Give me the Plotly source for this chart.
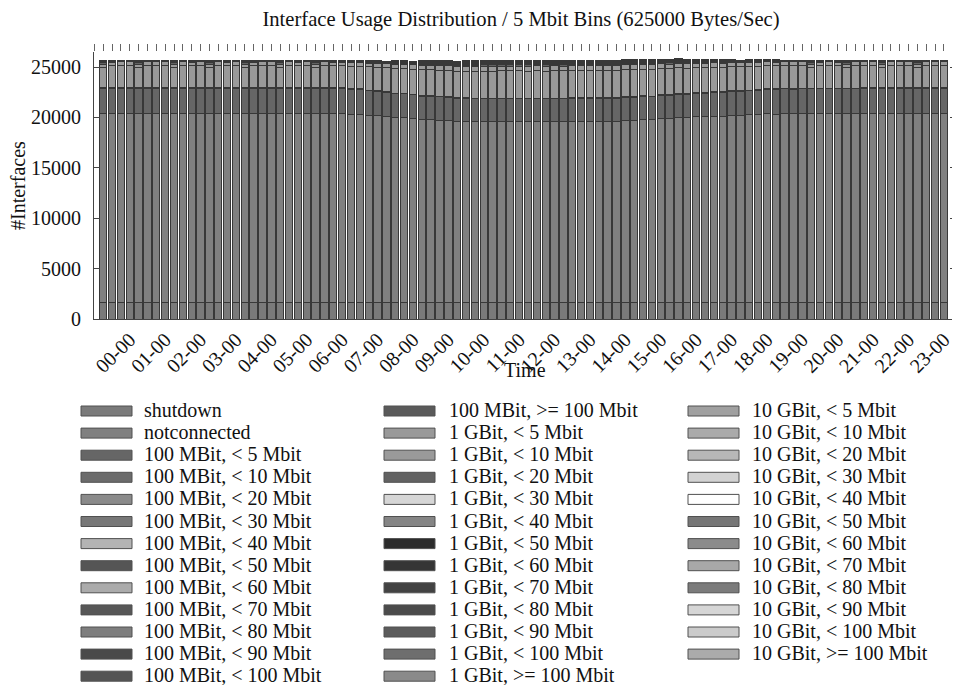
import plotly.graph_objects as go

# ---------------- data ----------------
slots = [
    "23-15", "23-30", "23-45",
    "00-00", "00-15", "00-30", "00-45", "01-00", "01-15", "01-30", "01-45",
    "02-00", "02-15", "02-30", "02-45", "03-00", "03-15", "03-30", "03-45",
    "04-00", "04-15", "04-30", "04-45", "05-00", "05-15", "05-30", "05-45",
    "06-00", "06-15", "06-30", "06-45", "07-00", "07-15", "07-30", "07-45",
    "08-00", "08-15", "08-30", "08-45", "09-00", "09-15", "09-30", "09-45",
    "10-00", "10-15", "10-30", "10-45", "11-00", "11-15", "11-30", "11-45",
    "12-00", "12-15", "12-30", "12-45", "13-00", "13-15", "13-30", "13-45",
    "14-00", "14-15", "14-30", "14-45", "15-00", "15-15", "15-30", "15-45",
    "16-00", "16-15", "16-30", "16-45", "17-00", "17-15", "17-30", "17-45",
    "18-00", "18-15", "18-30", "18-45", "19-00", "19-15", "19-30", "19-45",
    "20-00", "20-15", "20-30", "20-45", "21-00", "21-15", "21-30", "21-45",
    "22-00", "22-15", "22-30", "22-45", "23-00",
]

hour_labels = [
    "00-00", "01-00", "02-00", "03-00", "04-00", "05-00", "06-00", "07-00",
    "08-00", "09-00", "10-00", "11-00", "12-00", "13-00", "14-00", "15-00",
    "16-00", "17-00", "18-00", "19-00", "20-00", "21-00", "22-00", "23-00",
]

y_ticks = [0, 5000, 10000, 15000, 20000, 25000]
y_tick_text = ["0", "5000", "10000", "15000", "20000", "25000"]

shutdown = [
    1602, 1598, 1601, 1604, 1599, 1603, 1600, 1597, 1601, 1605, 1598, 1602, 1600, 1603, 1599, 1601, 1604, 1598, 1600, 1602, 1597, 1601, 1603, 1599,
    1600, 1602, 1598, 1601, 1604, 1600, 1599, 1603, 1597, 1601, 1600, 1602, 1598, 1604, 1599, 1601, 1603, 1600, 1598, 1602, 1601, 1597, 1603, 1600,
    1599, 1602, 1600, 1604, 1598, 1601, 1603, 1599, 1600, 1602, 1597, 1601, 1604, 1600, 1598, 1602, 1599, 1603, 1601, 1600, 1598, 1602, 1600, 1603,
    1599, 1601, 1604, 1598, 1600, 1602, 1597, 1601, 1603, 1599, 1600, 1602, 1598, 1604, 1601, 1599, 1603, 1600, 1602, 1598, 1601, 1599, 1603, 1600,
]
notconnected = [
    18830, 18822, 18828, 18825, 18819, 18827, 18831, 18824, 18826, 18820, 18829, 18823, 18825, 18832, 18821, 18826, 18828, 18824, 18822, 18830, 18827, 18825, 18819, 18826,
    18829, 18824, 18821, 18815, 18735, 18725, 18630, 18590, 18490, 18395, 18385, 18290, 18195, 18185, 18135, 18125, 18020, 18005, 17995, 17990, 18002, 17996, 18004, 17992,
    17998, 18001, 17994, 18006, 17997, 18030, 18028, 18035, 18032, 18036, 18030, 18135, 18128, 18195, 18188, 18290, 18285, 18392, 18386, 18460, 18455, 18530, 18526, 18590,
    18586, 18660, 18655, 18750, 18746, 18782, 18776, 18784, 18779, 18781, 18786, 18790, 18795, 18800, 18815, 18820, 18818, 18825, 18822, 18826, 18824, 18828, 18823, 18825,
]
m100_lt5 = [
    2482, 2478, 2485, 2480, 2476, 2483, 2479, 2481, 2484, 2477, 2480, 2486, 2478, 2481, 2475, 2483, 2480, 2479, 2484, 2477, 2482, 2480, 2478, 2485,
    2481, 2476, 2480, 2483, 2458, 2460, 2436, 2425, 2403, 2381, 2370, 2348, 2326, 2315, 2304, 2306, 2293, 2282, 2271, 2262, 2258, 2261, 2257, 2263,
    2259, 2260, 2264, 2256, 2261, 2258, 2262, 2260, 2257, 2263, 2259, 2271, 2273, 2282, 2284, 2300, 2308, 2326, 2335, 2348, 2359, 2370, 2381, 2392,
    2401, 2414, 2421, 2436, 2443, 2454, 2455, 2452, 2456, 2462, 2463, 2460, 2464, 2461, 2474, 2471, 2475, 2472, 2476, 2473, 2470, 2474, 2477, 2473,
]
m100_lt10 = [
    14, 14, 14, 14, 14, 14, 14, 14, 14, 14, 14, 14, 14, 14, 14, 14, 14, 14, 14, 14, 14, 14, 14, 14,
    14, 14, 14, 14, 14, 14, 15, 15, 15, 15, 15, 15, 16, 16, 16, 16, 16, 16, 16, 16, 16, 16, 16, 16,
    16, 16, 16, 16, 16, 16, 16, 16, 16, 16, 16, 16, 16, 16, 16, 16, 16, 16, 16, 15, 15, 15, 15, 15,
    15, 15, 15, 15, 15, 14, 14, 14, 14, 14, 14, 14, 14, 14, 14, 14, 14, 14, 14, 14, 14, 14, 14, 14,
]
m100_lt20 = [
    8, 8, 8, 8, 8, 8, 8, 8, 8, 8, 8, 8, 8, 8, 8, 8, 8, 8, 8, 8, 8, 8, 8, 8,
    8, 8, 8, 8, 8, 8, 8, 8, 8, 9, 9, 9, 9, 9, 9, 9, 9, 10, 10, 10, 10, 10, 10, 10,
    10, 10, 10, 10, 10, 10, 10, 10, 10, 10, 10, 10, 10, 10, 10, 9, 9, 9, 9, 9, 9, 9, 9, 9,
    8, 8, 8, 8, 8, 8, 8, 8, 8, 8, 8, 8, 8, 8, 8, 8, 8, 8, 8, 8, 8, 8, 8, 8,
]
m100_lt30 = [
    5, 5, 5, 5, 5, 5, 5, 5, 5, 5, 5, 5, 5, 5, 5, 5, 5, 5, 5, 5, 5, 5, 5, 5,
    5, 5, 5, 5, 5, 5, 5, 5, 5, 5, 5, 5, 6, 6, 6, 6, 6, 6, 6, 6, 6, 6, 6, 6,
    6, 6, 6, 6, 6, 6, 6, 6, 6, 6, 6, 6, 6, 6, 6, 6, 6, 6, 6, 5, 5, 5, 5, 5,
    5, 5, 5, 5, 5, 5, 5, 5, 5, 5, 5, 5, 5, 5, 5, 5, 5, 5, 5, 5, 5, 5, 5, 5,
]
m100_lt40 = [
    4, 4, 4, 4, 4, 4, 4, 4, 4, 4, 4, 4, 4, 4, 4, 4, 4, 4, 4, 4, 4, 4, 4, 4,
    4, 4, 4, 4, 4, 4, 4, 4, 4, 4, 4, 4, 4, 4, 4, 4, 4, 5, 5, 5, 5, 5, 5, 5,
    5, 5, 5, 5, 5, 5, 5, 5, 5, 5, 5, 5, 5, 5, 5, 4, 4, 4, 4, 4, 4, 4, 4, 4,
    4, 4, 4, 4, 4, 4, 4, 4, 4, 4, 4, 4, 4, 4, 4, 4, 4, 4, 4, 4, 4, 4, 4, 4,
]
m100_lt50 = [
    3, 3, 3, 3, 3, 3, 3, 3, 3, 3, 3, 3, 3, 3, 3, 3, 3, 3, 3, 3, 3, 3, 3, 3,
    3, 3, 3, 3, 3, 3, 3, 3, 3, 3, 3, 3, 3, 3, 3, 3, 3, 3, 3, 3, 3, 3, 3, 3,
    3, 3, 3, 3, 3, 3, 3, 3, 3, 3, 3, 3, 3, 3, 3, 3, 3, 3, 3, 3, 3, 3, 3, 3,
    3, 3, 3, 3, 3, 3, 3, 3, 3, 3, 3, 3, 3, 3, 3, 3, 3, 3, 3, 3, 3, 3, 3, 3,
]
m100_lt60 = [
    2, 2, 2, 2, 2, 2, 2, 2, 2, 2, 2, 2, 2, 2, 2, 2, 2, 2, 2, 2, 2, 2, 2, 2,
    2, 2, 2, 2, 2, 2, 2, 2, 2, 2, 2, 2, 2, 2, 2, 2, 2, 2, 2, 2, 2, 2, 2, 2,
    2, 2, 2, 2, 2, 2, 2, 2, 2, 2, 2, 2, 2, 2, 2, 2, 2, 2, 2, 2, 2, 2, 2, 2,
    2, 2, 2, 2, 2, 2, 2, 2, 2, 2, 2, 2, 2, 2, 2, 2, 2, 2, 2, 2, 2, 2, 2, 2,
]
m100_lt70 = [
    2, 2, 2, 2, 2, 2, 2, 2, 2, 2, 2, 2, 2, 2, 2, 2, 2, 2, 2, 2, 2, 2, 2, 2,
    2, 2, 2, 2, 2, 2, 2, 2, 2, 2, 2, 2, 2, 2, 2, 2, 2, 2, 2, 2, 2, 2, 2, 2,
    2, 2, 2, 2, 2, 2, 2, 2, 2, 2, 2, 2, 2, 2, 2, 2, 2, 2, 2, 2, 2, 2, 2, 2,
    2, 2, 2, 2, 2, 2, 2, 2, 2, 2, 2, 2, 2, 2, 2, 2, 2, 2, 2, 2, 2, 2, 2, 2,
]
m100_lt80 = [
    2, 2, 2, 2, 2, 2, 2, 2, 2, 2, 2, 2, 2, 2, 2, 2, 2, 2, 2, 2, 2, 2, 2, 2,
    2, 2, 2, 2, 2, 2, 2, 2, 2, 2, 2, 2, 2, 2, 2, 2, 2, 2, 2, 2, 2, 2, 2, 2,
    2, 2, 2, 2, 2, 2, 2, 2, 2, 2, 2, 2, 2, 2, 2, 2, 2, 2, 2, 2, 2, 2, 2, 2,
    2, 2, 2, 2, 2, 2, 2, 2, 2, 2, 2, 2, 2, 2, 2, 2, 2, 2, 2, 2, 2, 2, 2, 2,
]
m100_lt90 = [
    1, 1, 1, 1, 1, 1, 1, 1, 1, 1, 1, 1, 1, 1, 1, 1, 1, 1, 1, 1, 1, 1, 1, 1,
    1, 1, 1, 1, 1, 1, 1, 1, 1, 1, 1, 1, 1, 1, 1, 1, 1, 1, 1, 1, 1, 1, 1, 1,
    1, 1, 1, 1, 1, 1, 1, 1, 1, 1, 1, 1, 1, 1, 1, 1, 1, 1, 1, 1, 1, 1, 1, 1,
    1, 1, 1, 1, 1, 1, 1, 1, 1, 1, 1, 1, 1, 1, 1, 1, 1, 1, 1, 1, 1, 1, 1, 1,
]
m100_lt100 = [
    1, 1, 1, 1, 1, 1, 1, 1, 1, 1, 1, 1, 1, 1, 1, 1, 1, 1, 1, 1, 1, 1, 1, 1,
    1, 1, 1, 1, 1, 1, 1, 1, 1, 1, 1, 1, 1, 1, 1, 1, 1, 1, 1, 1, 1, 1, 1, 1,
    1, 1, 1, 1, 1, 1, 1, 1, 1, 1, 1, 1, 1, 1, 1, 1, 1, 1, 1, 1, 1, 1, 1, 1,
    1, 1, 1, 1, 1, 1, 1, 1, 1, 1, 1, 1, 1, 1, 1, 1, 1, 1, 1, 1, 1, 1, 1, 1,
]
m100_ge100 = [
    8, 8, 8, 8, 8, 8, 8, 8, 8, 8, 8, 8, 8, 8, 8, 8, 8, 8, 8, 8, 8, 8, 8, 8,
    8, 8, 8, 8, 8, 8, 8, 8, 8, 9, 9, 9, 9, 9, 9, 9, 9, 10, 10, 10, 10, 10, 10, 10,
    10, 10, 10, 10, 10, 10, 10, 10, 10, 10, 10, 10, 10, 10, 10, 9, 9, 9, 9, 9, 9, 9, 9, 9,
    8, 8, 8, 8, 8, 8, 8, 8, 8, 8, 8, 8, 8, 8, 8, 8, 8, 8, 8, 8, 8, 8, 8, 8,
]
g1_lt5 = [
    1970, 2205, 2198, 2202, 1972, 2196, 2204, 2199, 1968, 2203, 2197, 2201, 1975, 2200, 2206, 2195, 1971, 2202, 2198, 2204, 1969, 2199, 2203, 2197,
    1973, 2201, 2196, 2204, 2250, 2252, 2300, 2325, 2375, 2425, 2450, 2500, 2550, 2575, 2600, 2598, 2625, 2650, 2675, 2700, 2695, 2704, 2698, 2702,
    2699, 2705, 2696, 2701, 2703, 2697, 2700, 2706, 2694, 2702, 2698, 2675, 2672, 2650, 2648, 2610, 2590, 2550, 2530, 2500, 2475, 2450, 2425, 2400,
    2380, 2350, 2335, 2300, 2285, 2260, 2262, 2258, 2030, 2240, 2242, 2238, 2010, 2241, 2215, 2217, 1985, 2213, 2216, 2214, 1985, 2218, 2212, 2215,
]
g1_lt10 = [
    355, 353, 357, 354, 356, 352, 355, 358, 354, 356, 353, 355, 357, 354, 352, 356, 355, 353, 358, 354, 356, 355, 352, 357,
    354, 356, 355, 353, 369, 370, 382, 389, 402, 416, 423, 436, 450, 456, 463, 462, 470, 477, 483, 490, 488, 492, 489, 491,
    490, 487, 493, 489, 491, 488, 490, 492, 489, 491, 490, 483, 482, 477, 476, 466, 460, 450, 444, 436, 429, 423, 416, 409,
    404, 396, 391, 382, 378, 371, 372, 370, 371, 366, 367, 365, 366, 367, 359, 358, 360, 359, 357, 360, 358, 359, 361, 358,
]
g1_lt20 = [
    190, 41, 39, 40, 192, 42, 38, 40, 189, 41, 40, 39, 191, 40, 42, 38, 190, 41, 39, 40, 188, 42, 40, 39,
    191, 40, 41, 39, 50, 51, 59, 64, 73, 83, 88, 97, 107, 111, 116, 115, 121, 126, 130, 135, 133, 136, 134, 135,
    136, 134, 135, 137, 133, 135, 136, 134, 135, 133, 136, 130, 129, 126, 125, 118, 114, 107, 103, 97, 92, 88, 83, 78,
    74, 69, 66, 59, 56, 51, 52, 50, 201, 48, 49, 47, 198, 48, 43, 44, 193, 42, 43, 44, 193, 43, 42, 44,
]
g1_lt30 = [
    14, 14, 14, 14, 14, 14, 14, 14, 14, 14, 14, 14, 14, 14, 14, 14, 14, 14, 14, 14, 14, 14, 14, 14,
    14, 14, 14, 14, 14, 14, 25, 25, 25, 37, 37, 37, 49, 49, 49, 49, 49, 58, 58, 58, 58, 58, 58, 58,
    58, 58, 58, 58, 58, 58, 58, 58, 58, 58, 58, 58, 58, 58, 58, 49, 49, 49, 49, 37, 37, 37, 37, 37,
    25, 25, 25, 25, 25, 14, 14, 14, 14, 14, 14, 14, 14, 14, 14, 14, 14, 14, 14, 14, 14, 14, 14, 14,
]
g1_lt40 = [
    92, 12, 12, 12, 92, 12, 12, 12, 92, 12, 12, 12, 92, 12, 12, 12, 92, 12, 12, 12, 92, 12, 12, 12,
    92, 12, 12, 12, 12, 12, 20, 20, 20, 30, 30, 30, 41, 41, 41, 41, 41, 48, 48, 48, 48, 48, 48, 48,
    48, 48, 48, 48, 48, 48, 48, 48, 48, 48, 48, 48, 48, 48, 48, 41, 41, 41, 41, 30, 30, 30, 30, 30,
    20, 20, 20, 20, 20, 12, 12, 12, 92, 12, 12, 12, 92, 12, 12, 12, 92, 12, 12, 12, 92, 12, 12, 12,
]
g1_lt50 = [
    9, 9, 9, 9, 9, 9, 9, 9, 9, 9, 9, 9, 9, 9, 9, 9, 9, 9, 9, 9, 9, 9, 9, 9,
    9, 9, 9, 9, 9, 9, 18, 18, 18, 28, 28, 28, 38, 38, 38, 38, 38, 46, 46, 46, 46, 46, 46, 46,
    46, 46, 46, 46, 46, 46, 46, 46, 46, 46, 46, 46, 46, 46, 46, 38, 38, 38, 38, 28, 28, 28, 28, 28,
    18, 18, 18, 18, 18, 9, 9, 9, 9, 9, 9, 9, 9, 9, 9, 9, 9, 9, 9, 9, 9, 9, 9, 9,
]
g1_lt60 = [
    7, 7, 7, 7, 7, 7, 7, 7, 7, 7, 7, 7, 7, 7, 7, 7, 7, 7, 7, 7, 7, 7, 7, 7,
    7, 7, 7, 7, 7, 7, 15, 15, 15, 24, 24, 24, 33, 33, 33, 33, 33, 41, 41, 41, 41, 41, 41, 41,
    41, 41, 41, 41, 41, 41, 41, 41, 41, 41, 41, 41, 41, 41, 41, 33, 33, 33, 33, 24, 24, 24, 24, 24,
    15, 15, 15, 15, 15, 7, 7, 7, 7, 7, 7, 7, 7, 7, 7, 7, 7, 7, 7, 7, 7, 7, 7, 7,
]
g1_lt70 = [
    6, 6, 6, 6, 6, 6, 6, 6, 6, 6, 6, 6, 6, 6, 6, 6, 6, 6, 6, 6, 6, 6, 6, 6,
    6, 6, 6, 6, 6, 6, 13, 13, 13, 21, 21, 21, 28, 28, 28, 28, 28, 35, 35, 35, 35, 35, 35, 35,
    35, 35, 35, 35, 35, 35, 35, 35, 35, 35, 35, 35, 35, 35, 35, 28, 28, 28, 28, 21, 21, 21, 21, 21,
    13, 13, 13, 13, 13, 6, 6, 6, 6, 6, 6, 6, 6, 6, 6, 6, 6, 6, 6, 6, 6, 6, 6, 6,
]
g1_lt80 = [
    5, 5, 5, 5, 5, 5, 5, 5, 5, 5, 5, 5, 5, 5, 5, 5, 5, 5, 5, 5, 5, 5, 5, 5,
    5, 5, 5, 5, 5, 5, 11, 11, 11, 17, 17, 17, 24, 24, 24, 24, 24, 29, 29, 29, 29, 29, 29, 29,
    29, 29, 29, 29, 29, 29, 29, 29, 29, 29, 29, 29, 29, 29, 29, 24, 24, 24, 24, 17, 17, 17, 17, 17,
    11, 11, 11, 11, 11, 5, 5, 5, 5, 5, 5, 5, 5, 5, 5, 5, 5, 5, 5, 5, 5, 5, 5, 5,
]
g1_lt90 = [
    5, 5, 5, 5, 5, 5, 5, 5, 5, 5, 5, 5, 5, 5, 5, 5, 5, 5, 5, 5, 5, 5, 5, 5,
    5, 5, 5, 5, 5, 5, 10, 10, 10, 15, 15, 15, 20, 20, 20, 20, 20, 25, 25, 25, 25, 25, 25, 25,
    25, 25, 25, 25, 25, 25, 25, 25, 25, 25, 25, 25, 25, 25, 25, 20, 20, 20, 20, 15, 15, 15, 15, 15,
    10, 10, 10, 10, 10, 5, 5, 5, 5, 5, 5, 5, 5, 5, 5, 5, 5, 5, 5, 5, 5, 5, 5, 5,
]
g1_lt100 = [
    4, 4, 4, 4, 4, 4, 4, 4, 4, 4, 4, 4, 4, 4, 4, 4, 4, 4, 4, 4, 4, 4, 4, 4,
    4, 4, 4, 4, 4, 4, 8, 8, 8, 12, 12, 12, 16, 16, 16, 16, 16, 20, 20, 20, 20, 20, 20, 20,
    20, 20, 20, 20, 20, 20, 20, 20, 20, 20, 20, 20, 20, 20, 20, 16, 16, 16, 16, 12, 12, 12, 12, 12,
    8, 8, 8, 8, 8, 4, 4, 4, 4, 4, 4, 4, 4, 4, 4, 4, 4, 4, 4, 4, 4, 4, 4, 4,
]
g1_ge100 = [
    22, 22, 22, 22, 22, 22, 22, 22, 22, 22, 22, 22, 22, 22, 22, 22, 22, 22, 22, 22, 22, 22, 22, 22,
    22, 22, 22, 22, 22, 22, 34, 34, 34, 46, 46, 46, 58, 58, 58, 58, 58, 68, 68, 68, 68, 68, 68, 68,
    68, 68, 68, 68, 68, 68, 68, 68, 68, 68, 68, 68, 68, 68, 68, 58, 58, 58, 58, 46, 46, 46, 46, 46,
    34, 34, 34, 34, 34, 22, 22, 22, 22, 22, 22, 22, 22, 22, 22, 22, 22, 22, 22, 22, 22, 22, 22, 22,
]
g10_lt5 = [
    12, 12, 12, 12, 12, 12, 12, 12, 12, 12, 12, 12, 12, 12, 12, 12, 12, 12, 12, 12, 12, 12, 12, 12,
    12, 12, 12, 12, 12, 12, 14, 14, 14, 15, 15, 15, 17, 17, 17, 17, 17, 18, 18, 18, 18, 18, 18, 18,
    18, 18, 18, 18, 18, 18, 18, 18, 18, 18, 18, 18, 18, 18, 18, 17, 17, 17, 17, 15, 15, 15, 15, 15,
    14, 14, 14, 14, 14, 12, 12, 12, 12, 12, 12, 12, 12, 12, 12, 12, 12, 12, 12, 12, 12, 12, 12, 12,
]
g10_lt10 = [
    3, 3, 3, 3, 3, 3, 3, 3, 3, 3, 3, 3, 3, 3, 3, 3, 3, 3, 3, 3, 3, 3, 3, 3,
    3, 3, 3, 3, 3, 3, 4, 4, 4, 4, 4, 4, 5, 5, 5, 5, 5, 6, 6, 6, 6, 6, 6, 6,
    6, 6, 6, 6, 6, 6, 6, 6, 6, 6, 6, 6, 6, 6, 6, 5, 5, 5, 5, 4, 4, 4, 4, 4,
    4, 4, 4, 4, 4, 3, 3, 3, 3, 3, 3, 3, 3, 3, 3, 3, 3, 3, 3, 3, 3, 3, 3, 3,
]
g10_lt20 = [
    2, 2, 2, 2, 2, 2, 2, 2, 2, 2, 2, 2, 2, 2, 2, 2, 2, 2, 2, 2, 2, 2, 2, 2,
    2, 2, 2, 2, 2, 2, 2, 2, 2, 3, 3, 3, 3, 3, 3, 3, 3, 4, 4, 4, 4, 4, 4, 4,
    4, 4, 4, 4, 4, 4, 4, 4, 4, 4, 4, 4, 4, 4, 4, 3, 3, 3, 3, 3, 3, 3, 3, 3,
    2, 2, 2, 2, 2, 2, 2, 2, 2, 2, 2, 2, 2, 2, 2, 2, 2, 2, 2, 2, 2, 2, 2, 2,
]
g10_lt30 = [
    1, 1, 1, 1, 1, 1, 1, 1, 1, 1, 1, 1, 1, 1, 1, 1, 1, 1, 1, 1, 1, 1, 1, 1,
    1, 1, 1, 1, 1, 1, 2, 2, 2, 2, 2, 2, 3, 3, 3, 3, 3, 3, 3, 3, 3, 3, 3, 3,
    3, 3, 3, 3, 3, 3, 3, 3, 3, 3, 3, 3, 3, 3, 3, 3, 3, 3, 3, 2, 2, 2, 2, 2,
    2, 2, 2, 2, 2, 1, 1, 1, 1, 1, 1, 1, 1, 1, 1, 1, 1, 1, 1, 1, 1, 1, 1, 1,
]
g10_lt40 = [
    1, 1, 1, 1, 1, 1, 1, 1, 1, 1, 1, 1, 1, 1, 1, 1, 1, 1, 1, 1, 1, 1, 1, 1,
    1, 1, 1, 1, 1, 1, 1, 1, 1, 2, 2, 2, 2, 2, 2, 2, 2, 2, 2, 2, 2, 2, 2, 2,
    2, 2, 2, 2, 2, 2, 2, 2, 2, 2, 2, 2, 2, 2, 2, 2, 2, 2, 2, 2, 2, 2, 2, 2,
    1, 1, 1, 1, 1, 1, 1, 1, 1, 1, 1, 1, 1, 1, 1, 1, 1, 1, 1, 1, 1, 1, 1, 1,
]
g10_lt50 = [
    1, 1, 1, 1, 1, 1, 1, 1, 1, 1, 1, 1, 1, 1, 1, 1, 1, 1, 1, 1, 1, 1, 1, 1,
    1, 1, 1, 1, 1, 1, 1, 1, 1, 2, 2, 2, 2, 2, 2, 2, 2, 2, 2, 2, 2, 2, 2, 2,
    2, 2, 2, 2, 2, 2, 2, 2, 2, 2, 2, 2, 2, 2, 2, 2, 2, 2, 2, 2, 2, 2, 2, 2,
    1, 1, 1, 1, 1, 1, 1, 1, 1, 1, 1, 1, 1, 1, 1, 1, 1, 1, 1, 1, 1, 1, 1, 1,
]
g10_lt60 = [
    1, 1, 1, 1, 1, 1, 1, 1, 1, 1, 1, 1, 1, 1, 1, 1, 1, 1, 1, 1, 1, 1, 1, 1,
    1, 1, 1, 1, 1, 1, 1, 1, 1, 1, 1, 1, 2, 2, 2, 2, 2, 2, 2, 2, 2, 2, 2, 2,
    2, 2, 2, 2, 2, 2, 2, 2, 2, 2, 2, 2, 2, 2, 2, 2, 2, 2, 2, 1, 1, 1, 1, 1,
    1, 1, 1, 1, 1, 1, 1, 1, 1, 1, 1, 1, 1, 1, 1, 1, 1, 1, 1, 1, 1, 1, 1, 1,
]
g10_lt70 = [
    1, 1, 1, 1, 1, 1, 1, 1, 1, 1, 1, 1, 1, 1, 1, 1, 1, 1, 1, 1, 1, 1, 1, 1,
    1, 1, 1, 1, 1, 1, 1, 1, 1, 1, 1, 1, 1, 1, 1, 1, 1, 1, 1, 1, 1, 1, 1, 1,
    1, 1, 1, 1, 1, 1, 1, 1, 1, 1, 1, 1, 1, 1, 1, 1, 1, 1, 1, 1, 1, 1, 1, 1,
    1, 1, 1, 1, 1, 1, 1, 1, 1, 1, 1, 1, 1, 1, 1, 1, 1, 1, 1, 1, 1, 1, 1, 1,
]
g10_lt80 = [
    1, 1, 1, 1, 1, 1, 1, 1, 1, 1, 1, 1, 1, 1, 1, 1, 1, 1, 1, 1, 1, 1, 1, 1,
    1, 1, 1, 1, 1, 1, 1, 1, 1, 1, 1, 1, 1, 1, 1, 1, 1, 1, 1, 1, 1, 1, 1, 1,
    1, 1, 1, 1, 1, 1, 1, 1, 1, 1, 1, 1, 1, 1, 1, 1, 1, 1, 1, 1, 1, 1, 1, 1,
    1, 1, 1, 1, 1, 1, 1, 1, 1, 1, 1, 1, 1, 1, 1, 1, 1, 1, 1, 1, 1, 1, 1, 1,
]
g10_lt90 = [
    1, 1, 1, 1, 1, 1, 1, 1, 1, 1, 1, 1, 1, 1, 1, 1, 1, 1, 1, 1, 1, 1, 1, 1,
    1, 1, 1, 1, 1, 1, 1, 1, 1, 1, 1, 1, 1, 1, 1, 1, 1, 1, 1, 1, 1, 1, 1, 1,
    1, 1, 1, 1, 1, 1, 1, 1, 1, 1, 1, 1, 1, 1, 1, 1, 1, 1, 1, 1, 1, 1, 1, 1,
    1, 1, 1, 1, 1, 1, 1, 1, 1, 1, 1, 1, 1, 1, 1, 1, 1, 1, 1, 1, 1, 1, 1, 1,
]
g10_lt100 = [
    1, 1, 1, 1, 1, 1, 1, 1, 1, 1, 1, 1, 1, 1, 1, 1, 1, 1, 1, 1, 1, 1, 1, 1,
    1, 1, 1, 1, 1, 1, 1, 1, 1, 1, 1, 1, 1, 1, 1, 1, 1, 1, 1, 1, 1, 1, 1, 1,
    1, 1, 1, 1, 1, 1, 1, 1, 1, 1, 1, 1, 1, 1, 1, 1, 1, 1, 1, 1, 1, 1, 1, 1,
    1, 1, 1, 1, 1, 1, 1, 1, 1, 1, 1, 1, 1, 1, 1, 1, 1, 1, 1, 1, 1, 1, 1, 1,
]
g10_ge100 = [
    1, 1, 1, 1, 1, 1, 1, 1, 1, 1, 1, 1, 1, 1, 1, 1, 1, 1, 1, 1, 1, 1, 1, 1,
    1, 1, 1, 1, 1, 1, 1, 1, 1, 2, 2, 2, 2, 2, 2, 2, 2, 2, 2, 2, 2, 2, 2, 2,
    2, 2, 2, 2, 2, 2, 2, 2, 2, 2, 2, 2, 2, 2, 2, 2, 2, 2, 2, 2, 2, 2, 2, 2,
    1, 1, 1, 1, 1, 1, 1, 1, 1, 1, 1, 1, 1, 1, 1, 1, 1, 1, 1, 1, 1, 1, 1, 1,
]

series_names = [
    "shutdown", "notconnected",
    "100 MBit, < 5 Mbit", "100 MBit, < 10 Mbit", "100 MBit, < 20 Mbit", "100 MBit, < 30 Mbit",
    "100 MBit, < 40 Mbit", "100 MBit, < 50 Mbit", "100 MBit, < 60 Mbit", "100 MBit, < 70 Mbit",
    "100 MBit, < 80 Mbit", "100 MBit, < 90 Mbit", "100 MBit, < 100 Mbit", "100 MBit, >= 100 Mbit",
    "1 GBit, < 5 Mbit", "1 GBit, < 10 Mbit", "1 GBit, < 20 Mbit", "1 GBit, < 30 Mbit",
    "1 GBit, < 40 Mbit", "1 GBit, < 50 Mbit", "1 GBit, < 60 Mbit", "1 GBit, < 70 Mbit",
    "1 GBit, < 80 Mbit", "1 GBit, < 90 Mbit", "1 GBit, < 100 Mbit", "1 GBit, >= 100 Mbit",
    "10 GBit, < 5 Mbit", "10 GBit, < 10 Mbit", "10 GBit, < 20 Mbit", "10 GBit, < 30 Mbit",
    "10 GBit, < 40 Mbit", "10 GBit, < 50 Mbit", "10 GBit, < 60 Mbit", "10 GBit, < 70 Mbit",
    "10 GBit, < 80 Mbit", "10 GBit, < 90 Mbit", "10 GBit, < 100 Mbit", "10 GBit, >= 100 Mbit",
]
series_values = [
    shutdown, notconnected,
    m100_lt5, m100_lt10, m100_lt20, m100_lt30, m100_lt40, m100_lt50, m100_lt60,
    m100_lt70, m100_lt80, m100_lt90, m100_lt100, m100_ge100,
    g1_lt5, g1_lt10, g1_lt20, g1_lt30, g1_lt40, g1_lt50, g1_lt60,
    g1_lt70, g1_lt80, g1_lt90, g1_lt100, g1_ge100,
    g10_lt5, g10_lt10, g10_lt20, g10_lt30, g10_lt40, g10_lt50, g10_lt60,
    g10_lt70, g10_lt80, g10_lt90, g10_lt100, g10_ge100,
]
series_colors = [
    "#7a7a7a", "#808080",
    "#666666", "#6b6b6b", "#8a8a8a", "#777777", "#b4b4b4", "#555555", "#ababab",
    "#575757", "#7e7e7e", "#4a4a4a", "#545454", "#5a5a5a",
    "#999999", "#9a9a9a", "#626262", "#d6d6d6", "#858585", "#2b2b2b", "#353535",
    "#424242", "#4b4b4b", "#5c5c5c", "#6e6e6e", "#8a8a8a",
    "#a0a0a0", "#aaaaaa", "#b7b7b7", "#d2d2d2", "#ffffff", "#767676", "#8b8b8b",
    "#a8a8a8", "#7b7b7b", "#d6d6d6", "#cbcbcb", "#ababab",
]

# ---------------- layout geometry ----------------
# The page puts the figure 8 px from the top-left corner, so the figure is
# sized to the window minus that offset and positions are given in page px.
OFF = 8
W, H = 960 - OFF, 685 - OFF
ML, MR, MT, MB = 94 - OFF, 4, 52 - OFF, 366
PW = W - ML - MR
PH = H - MT - MB
FONT = "Liberation Serif"
TXT = "#111111"
XR = [-1.04, 96.36]
YR = [0, 26500]


def px_x(px):
    return (px - OFF - ML) / PW


def px_y(py):
    return (H - MB - (py - OFF)) / PH


fig = go.Figure()
for name, vals, col in zip(series_names, series_values, series_colors):
    fig.add_trace(go.Bar(
        x=slots, y=vals, name=name,
        marker=dict(color=col, line=dict(color="#383838", width=1)),
        showlegend=False,
    ))
# empty helper trace so the top / right tick axes are drawn
fig.add_trace(go.Scatter(x=[], y=[], xaxis="x2", yaxis="y2",
                         showlegend=False, hoverinfo="skip"))

# manual legend (3 columns, column-major like the original)
shapes = []
annotations = []
sw_cols = [(81, 132), (384, 435), (688, 739)]
tx_cols = [142, 447, 750]
row0, row_step = 410, 22.1
for k, (name, col) in enumerate(zip(series_names, series_colors)):
    c, r = divmod(k, 13)
    cy = row0 + r * row_step
    shapes.append(dict(
        type="rect", xref="paper", yref="paper",
        x0=px_x(sw_cols[c][0]), x1=px_x(sw_cols[c][1]),
        y0=px_y(cy + 6), y1=px_y(cy - 4),
        fillcolor=col, line=dict(color="#505050", width=1), layer="above",
    ))
    annotations.append(dict(
        text=name.replace("<", "&lt;").replace(">", "&gt;"),
        x=px_x(tx_cols[c]), y=px_y(cy), xref="paper", yref="paper",
        xanchor="left", yanchor="middle", showarrow=False,
        font=dict(family=FONT, size=20, color=TXT),
    ))

annotations.append(dict(
    text="Time", x=px_x(525), y=px_y(370), xref="paper", yref="paper",
    xanchor="center", yanchor="middle", showarrow=False,
    font=dict(family=FONT, size=20, color=TXT),
))
annotations.append(dict(
    text="#Interfaces", x=px_x(18), y=px_y(186), xref="paper", yref="paper",
    xanchor="center", yanchor="middle", showarrow=False, textangle=-90,
    font=dict(family=FONT, size=20, color=TXT),
))

fig.update_layout(
    width=W, height=H,
    margin=dict(l=ML, r=MR, t=MT, b=MB, autoexpand=False),
    paper_bgcolor="white", plot_bgcolor="white",
    barmode="stack", bargap=0.17,
    font=dict(family=FONT, size=20, color=TXT),
    title=dict(
        text="Interface Usage Distribution / 5 Mbit Bins (625000 Bytes/Sec)",
        x=(521 - OFF) / W, xref="container", xanchor="center",
        y=1 - (19 - OFF) / H, yref="container", yanchor="middle",
        font=dict(family=FONT, size=20.6, color=TXT),
    ),
    xaxis=dict(
        type="category", categoryorder="array", categoryarray=slots,
        range=XR, tickmode="array", tickvals=hour_labels, ticktext=hour_labels,
        tickangle=-45, ticks="", showline=True, linecolor="#444444", linewidth=1,
        showgrid=False, zeroline=False, automargin=False,
        tickfont=dict(family=FONT, size=20, color=TXT),
    ),
    xaxis2=dict(
        overlaying="x", side="top", anchor="y2", type="linear", range=XR,
        tickmode="linear", tick0=0, dtick=1, ticks="outside", ticklen=7,
        tickcolor="#666666", tickwidth=1, showticklabels=False,
        showline=False, showgrid=False, zeroline=False,
    ),
    yaxis=dict(
        range=YR, tickmode="array", tickvals=y_ticks, ticktext=y_tick_text,
        ticks="inside", ticklen=6,
        tickcolor="#444444", showline=True, linecolor="#444444", linewidth=1,
        showgrid=False, zeroline=False, automargin=False, ticklabelstandoff=8,
        tickfont=dict(family=FONT, size=20, color=TXT),
    ),
    yaxis2=dict(
        overlaying="y", side="right", anchor="x2", range=YR, tickmode="array",
        tickvals=y_ticks, ticks="inside", ticklen=6, tickcolor="#444444",
        showticklabels=False, showline=False, showgrid=False, zeroline=False,
    ),
    shapes=shapes,
    annotations=annotations,
)

fig.write_html("out.html")
